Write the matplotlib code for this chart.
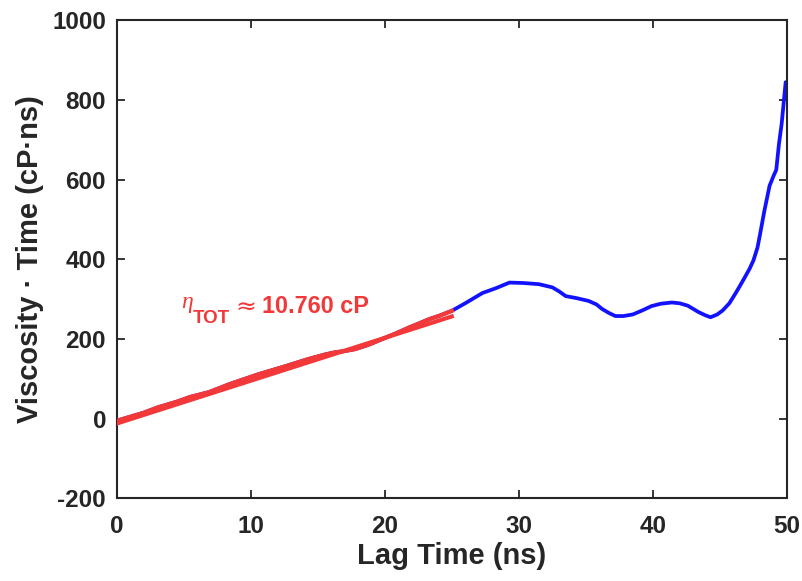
import matplotlib
matplotlib.use("Agg")
import matplotlib.pyplot as plt
import numpy as np

# Data
lag_time = [0.0, 1.0, 2.0, 3.1, 4.5, 5.5, 6.9, 8.5, 10.6, 12.5, 14.3, 15.5, 16.3, 17.0, 17.8,
            18.8, 19.8, 20.8, 21.8, 22.6, 23.3, 24.1, 25.0, 26.0, 27.3, 28.3, 29.3, 30.3,
            31.5, 32.5, 33.0, 33.5, 34.3, 35.2, 35.8, 36.2, 36.7, 37.2, 37.8, 38.5, 39.2,
            39.9, 40.6, 41.4, 42.0, 42.6, 43.0, 43.4, 43.9, 44.3, 44.8, 45.2, 45.7, 46.2,
            46.7, 47.2, 47.5, 47.8, 48.0, 48.3, 48.7, 49.0, 49.2, 49.4, 49.6, 49.8, 49.9]
visc_time = [-5, 5, 15, 29, 43, 55, 67, 88, 112, 131, 150, 161, 167, 170, 175,
             186, 200, 214, 229, 240, 250, 259, 271, 290, 316, 328, 342, 341,
             338, 330, 320, 308, 303, 296, 287, 276, 266, 258, 258, 262, 272,
             283, 289, 292, 290, 284, 276, 268, 260, 255, 262, 272, 290, 317,
             346, 376, 398, 430, 465, 520, 585, 610, 625, 690, 740, 810, 845]

fit_slope = 10.760
fit_intercept = -12.0
fit_range = [0.0, 25.0]
split_time = 25.0

x_ticks = [0, 10, 20, 30, 40, 50]
y_ticks = [-200, 0, 200, 400, 600, 800, 1000]

plt.rcParams['font.family'] = ['Liberation Sans', 'DejaVu Sans']
plt.rcParams['font.weight'] = 'bold'
plt.rcParams['axes.unicode_minus'] = False

fig = plt.figure(figsize=(8.02, 5.81), dpi=100)
ax = fig.add_axes([0.1453, 0.142, 0.8360, 0.8228])

x = np.array(lag_time)
y = np.array(visc_time)

blue = '#1212ff'
red = '#f23838'

ax.plot(x, y, color=blue, lw=2.7, solid_capstyle='round', solid_joinstyle='round', zorder=2)
mask = x <= split_time
ax.plot(x[mask], y[mask], color=red, lw=3.0, solid_joinstyle='round', zorder=3)
fx = np.array(fit_range)
ax.plot(fx, fit_slope * fx + fit_intercept, color=red, lw=3.0, zorder=3)

# annotation: eta_TOT ~ 10.760 cP (MATLAB TeX style)
ax.text(4.81, 278, '\u03b7', color=red, fontsize=17, family='Liberation Serif',
        style='italic', fontweight='normal', ha='left', va='baseline')
ax.text(5.70, 241, 'TOT', color=red, fontsize=13.5, fontweight='bold',
        ha='left', va='baseline')
ax.text(8.85, 279, '\u2248', color=red, fontsize=18, family='DejaVu Sans',
        fontweight='normal', ha='left', va='center')
ax.text(10.85, 265, '10.760 cP', color=red, fontsize=16.8, fontweight='bold',
        ha='left', va='baseline')

ax.set_xlim(0, 50)
ax.set_ylim(-200, 1000)
ax.set_xticks(x_ticks)
ax.set_yticks(y_ticks)
ax.tick_params(direction='in', length=6, width=1.3, top=True, right=True,
               labelsize=17.5, colors='#262626')
ax.tick_params(axis='x', pad=12)
ax.tick_params(axis='y', pad=7.5)
for lab in ax.get_xticklabels() + ax.get_yticklabels():
    lab.set_fontweight('bold')
for sp in ax.spines.values():
    sp.set_linewidth(1.5)
    sp.set_color('#262626')

ax.set_xlabel('Lag Time (ns)', fontsize=21, fontweight='bold', color='#262626', labelpad=3)
ax.set_ylabel('Viscosity \u00b7 Time (cP\u00b7ns)', fontsize=21, fontweight='bold',
              color='#262626', labelpad=6)

fig.savefig('out.png', dpi=100)
